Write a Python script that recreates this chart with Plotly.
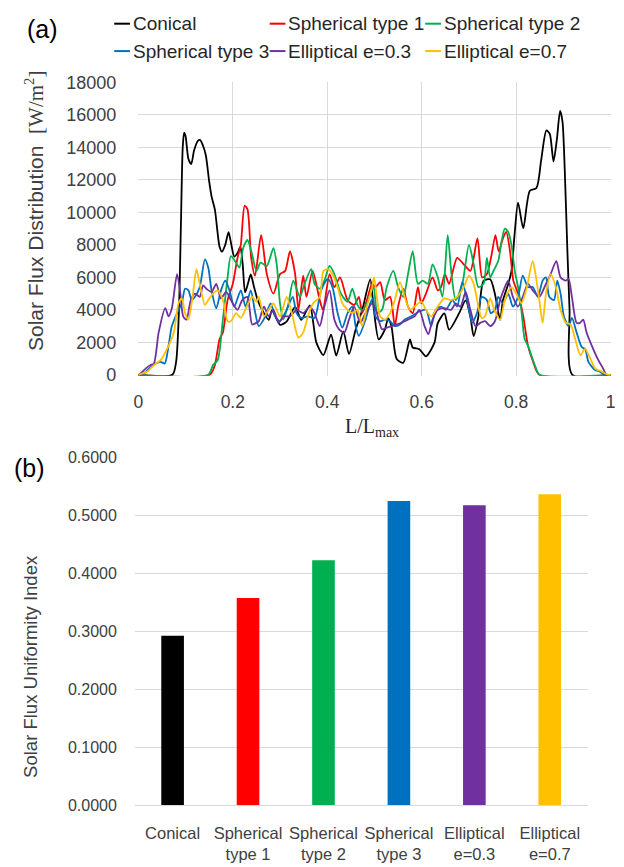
import plotly.graph_objects as go

# ---- Solar flux distribution along L/Lmax (W/m^2) ----
conical_x = [0, 0.072, 0.080, 0.086, 0.090, 0.094, 0.097, 0.100, 0.106, 0.112, 0.118, 0.126, 0.131, 0.137,
             0.143, 0.150, 0.155, 0.162, 0.172, 0.177, 0.184, 0.191, 0.197, 0.203, 0.210, 0.216, 0.221, 0.226,
             0.232, 0.238, 0.245, 0.253, 0.262, 0.276, 0.283, 0.300, 0.314, 0.332, 0.345, 0.363, 0.377, 0.392,
             0.408, 0.419, 0.434, 0.446, 0.460, 0.474, 0.491, 0.498, 0.509, 0.522, 0.529, 0.536, 0.547, 0.561,
             0.575, 0.581, 0.595, 0.609, 0.627, 0.634, 0.648, 0.658, 0.679, 0.693, 0.703, 0.710, 0.720, 0.731,
             0.745, 0.755, 0.766, 0.772, 0.783, 0.790, 0.797, 0.804, 0.815, 0.829, 0.843, 0.853, 0.864, 0.871,
             0.879, 0.886, 0.893, 0.898, 0.903, 0.908, 0.913, 0.919, 1.0]
conical_y = [0, 0, 800, 4000, 9000, 14000, 14900, 14700, 13300, 12970, 13800, 14400, 14450, 14100,
             13500, 11900, 10980, 10180, 7880, 7580, 8000, 8780, 8000, 7280, 7500, 7880, 6800, 5080,
             5600, 6180, 5400, 4580, 4000, 3380, 3980, 3080, 3280, 4180, 3380, 4280, 1980, 1220,
             2480, 1180, 2680, 1280, 2780, 3980, 5880, 4180, 2180, 2780, 3480, 2980, 980, 740,
             2180, 1680, 1580, 1140, 1980, 3180, 3780, 2780, 3780, 4580, 3580, 2380, 3580, 5780,
             5880, 4980, 3380, 4580, 5580, 6380, 8780, 10600, 9020, 11330, 11500, 13230, 15040, 14840,
             13130, 14440, 16240, 15600, 12500, 8000, 4000, 0, 0]

sph1_x = [0, 0.151, 0.162, 0.172, 0.179, 0.189, 0.200, 0.210, 0.217, 0.225, 0.231, 0.239, 0.247, 0.260,
          0.272, 0.286, 0.300, 0.311, 0.321, 0.332, 0.339, 0.349, 0.356, 0.369, 0.384, 0.391, 0.405, 0.415,
          0.427, 0.443, 0.457, 0.467, 0.474, 0.484, 0.495, 0.502, 0.512, 0.522, 0.533, 0.543, 0.550, 0.561,
          0.571, 0.581, 0.592, 0.599, 0.609, 0.623, 0.634, 0.641, 0.649, 0.658, 0.675, 0.689, 0.703, 0.718,
          0.728, 0.738, 0.748, 0.756, 0.763, 0.772, 0.779, 0.787, 0.794, 0.804, 0.815, 0.825, 0.836, 0.849, 1.0]
sph1_y = [0, 0, 600, 2200, 2600, 4600, 5600, 7200, 8000, 10400, 10200, 7200, 6100, 8600,
          6200, 5000, 6200, 6400, 7600, 6200, 4000, 6100, 4800, 6400, 4600, 4000, 6200, 5400,
          6000, 4600, 4300, 4800, 3800, 4600, 5600, 5400, 5700, 4600, 4800, 3000, 4200, 5300,
          4200, 3800, 5400, 4400, 5000, 6000, 5200, 5400, 6200, 5600, 7200, 6800, 6400, 8400,
          6000, 6200, 7400, 8600, 7600, 8400, 8800, 7600, 5800, 5000, 3600, 1800, 800, 0, 0]

sph2_x = [0, 0.148, 0.158, 0.168, 0.179, 0.189, 0.196, 0.207, 0.214, 0.222, 0.231, 0.241, 0.250, 0.259,
          0.272, 0.286, 0.293, 0.300, 0.307, 0.318, 0.328, 0.342, 0.352, 0.366, 0.373, 0.384, 0.394, 0.405,
          0.415, 0.429, 0.443, 0.453, 0.464, 0.474, 0.484, 0.498, 0.506, 0.516, 0.526, 0.540, 0.550, 0.561,
          0.571, 0.581, 0.592, 0.602, 0.613, 0.623, 0.634, 0.644, 0.655, 0.663, 0.672, 0.686, 0.700, 0.710,
          0.720, 0.731, 0.738, 0.745, 0.752, 0.762, 0.769, 0.776, 0.783, 0.790, 0.797, 0.804, 0.811, 0.818,
          0.825, 0.832, 0.842, 0.849, 1.0]
sph2_y = [0, 0, 600, 900, 3400, 6000, 7300, 6900, 6600, 7800, 8300, 7400, 6400, 6900,
          6700, 7800, 6800, 4400, 3400, 4400, 5800, 4800, 5600, 6500, 5600, 5300, 5800, 6700,
          6200, 5000, 4500, 5300, 4300, 4000, 4400, 5400, 3800, 4000, 5400, 6400, 5400, 4800,
          6200, 7600, 5600, 5800, 5600, 6800, 6000, 4800, 8600, 6200, 4600, 5600, 8000, 6800,
          5400, 5600, 7200, 6000, 6400, 7000, 8200, 9000, 8800, 8000, 6400, 5400, 4000, 2200,
          1800, 1200, 400, 0, 0]

sph3_x = [0, 0.012, 0.023, 0.037, 0.047, 0.056, 0.064, 0.071, 0.082, 0.092, 0.099, 0.106, 0.113, 0.120,
          0.130, 0.141, 0.148, 0.155, 0.165, 0.175, 0.184, 0.193, 0.203, 0.217, 0.227, 0.238, 0.247, 0.255,
          0.269, 0.280, 0.290, 0.300, 0.314, 0.327, 0.335, 0.345, 0.359, 0.373, 0.387, 0.401, 0.411, 0.422,
          0.432, 0.443, 0.453, 0.460, 0.467, 0.481, 0.491, 0.497, 0.502, 0.512, 0.522, 0.533, 0.543, 0.554,
          0.564, 0.578, 0.595, 0.609, 0.620, 0.630, 0.641, 0.651, 0.665, 0.675, 0.686, 0.696, 0.707, 0.717,
          0.727, 0.738, 0.746, 0.755, 0.762, 0.772, 0.783, 0.793, 0.804, 0.814, 0.825, 0.835, 0.846, 0.856,
          0.863, 0.870, 0.880, 0.887, 0.894, 0.901, 0.911, 0.918, 0.928, 0.939, 0.946, 0.953, 0.967, 0.977,
          0.988, 1.0]
sph3_y = [0, 80, 400, 700, 800, 700, 1800, 3000, 3800, 4400, 5300, 5200, 4600, 4800,
          5400, 7100, 6600, 5200, 4100, 5200, 5800, 5200, 4200, 5200, 4200, 5200, 3900, 3000,
          3600, 4400, 3600, 3300, 4000, 4800, 3800, 3500, 3600, 3500, 5200, 5900, 5400, 3800,
          2900, 3800, 4200, 3000, 2400, 3400, 4400, 4700, 3600, 3300, 3400, 3300, 3000, 3100,
          3400, 3600, 3900, 4000, 3000, 4000, 4200, 4000, 4600, 4200, 5700, 4600, 3200, 3800,
          4800, 4600, 3800, 4000, 4800, 4400, 5000, 4200, 4800, 6100, 5400, 5400, 4800, 5800,
          6000, 4800, 4600, 5800, 5000, 3600, 3000, 3500, 2600, 1700, 1600, 800, 300, 200,
          0, 0]

ell3_x = [0, 0.005, 0.016, 0.026, 0.033, 0.043, 0.057, 0.064, 0.071, 0.082, 0.089, 0.095, 0.102, 0.111,
          0.120, 0.130, 0.137, 0.144, 0.155, 0.165, 0.175, 0.186, 0.196, 0.210, 0.220, 0.231, 0.241, 0.250,
          0.255, 0.266, 0.276, 0.286, 0.297, 0.307, 0.321, 0.335, 0.349, 0.363, 0.373, 0.384, 0.394, 0.405,
          0.415, 0.425, 0.436, 0.446, 0.457, 0.470, 0.481, 0.495, 0.503, 0.516, 0.526, 0.536, 0.547, 0.557,
          0.571, 0.585, 0.595, 0.606, 0.614, 0.623, 0.634, 0.648, 0.662, 0.672, 0.682, 0.693, 0.703, 0.714,
          0.724, 0.734, 0.745, 0.755, 0.766, 0.776, 0.783, 0.793, 0.804, 0.814, 0.825, 0.835, 0.849, 0.863,
          0.873, 0.885, 0.894, 0.905, 0.911, 0.918, 0.928, 0.935, 0.942, 0.949, 0.960, 0.974, 0.984, 0.991, 1.0]
ell3_y = [0, 80, 400, 600, 700, 2600, 4100, 3600, 4100, 6200, 5000, 3600, 3400, 4600,
          5000, 4800, 5500, 5300, 5100, 5600, 4700, 5100, 4600, 4000, 4600, 4800, 3100, 3200,
          3300, 4200, 3600, 4000, 3200, 3600, 3600, 4000, 3800, 4200, 3800, 3000, 4200, 5200,
          3400, 2800, 2600, 3400, 4200, 3200, 3800, 4400, 4000, 2800, 2900, 3000, 3100, 3200,
          3400, 3600, 4000, 3000, 2500, 3400, 4000, 4100, 4000, 4400, 4200, 5100, 4000, 3000,
          3200, 3300, 3000, 3300, 4600, 5400, 5800, 4800, 4200, 4800, 5600, 5200, 4800, 5600,
          6200, 7000, 6000, 5800, 5900, 4800, 3200, 3200, 3400, 2600, 1800, 900, 400, 0, 0]

ell7_x = [0, 0.019, 0.033, 0.047, 0.061, 0.075, 0.085, 0.092, 0.099, 0.106, 0.114, 0.123, 0.130, 0.141,
          0.148, 0.158, 0.168, 0.179, 0.189, 0.196, 0.207, 0.217, 0.231, 0.241, 0.250, 0.255, 0.266, 0.276,
          0.286, 0.300, 0.314, 0.325, 0.339, 0.349, 0.359, 0.370, 0.384, 0.392, 0.401, 0.411, 0.422, 0.432,
          0.443, 0.453, 0.464, 0.474, 0.484, 0.495, 0.499, 0.505, 0.512, 0.522, 0.533, 0.543, 0.554, 0.564,
          0.575, 0.585, 0.599, 0.609, 0.620, 0.634, 0.648, 0.662, 0.675, 0.689, 0.700, 0.710, 0.720, 0.727,
          0.734, 0.745, 0.755, 0.766, 0.776, 0.790, 0.800, 0.811, 0.821, 0.835, 0.842, 0.849, 0.856, 0.863,
          0.873, 0.884, 0.894, 0.905, 0.915, 0.925, 0.936, 0.946, 0.957, 0.967, 0.981, 0.995, 1.0]
ell7_y = [0, 200, 600, 900, 1600, 2600, 4400, 4700, 3800, 3400, 4600, 6500, 5600, 4300,
          4600, 5000, 5200, 4600, 3300, 3300, 3800, 3500, 4300, 4800, 4500, 4800, 3600, 4000,
          4400, 3600, 4800, 3800, 2300, 2600, 3600, 4400, 4800, 6400, 6500, 6200, 5400, 4400,
          4000, 3800, 4000, 3000, 4200, 5400, 6000, 4800, 3600, 3400, 3800, 4600, 5700, 4800,
          4000, 4200, 4500, 4000, 3600, 4200, 4700, 4600, 4800, 5400, 6100, 5600, 4200, 3500,
          3600, 4700, 3900, 3400, 4600, 5400, 5000, 4400, 5200, 7000, 6000, 4600, 3200, 5000,
          6200, 5400, 4000, 3200, 3100, 2200, 1200, 1600, 1000, 400, 200, 0, 0]

# ---- Uniformity index per receiver geometry ----
geometries = ["Conical", "Spherical<br>type 1", "Spherical<br>type 2", "Spherical<br>type 3",
              "Elliptical<br>e=0.3", "Elliptical<br>e=0.7"]
uniformity = [0.292, 0.357, 0.422, 0.524, 0.517, 0.536]

series_names = ["Conical", "Spherical type 1", "Spherical type 2",
                "Spherical type 3", "Elliptical e=0.3", "Elliptical e=0.7"]
colors = ["#000000", "#FF0000", "#00B050", "#0070C0", "#7030A0", "#FFC000"]
flux_x = [conical_x, sph1_x, sph2_x, sph3_x, ell3_x, ell7_x]
flux_y = [conical_y, sph1_y, sph2_y, sph3_y, ell3_y, ell7_y]

W, H = 624, 867
SANS = "Liberation Sans, Arial, sans-serif"
SERIF = "Liberation Serif, Times New Roman, serif"
GRID = "#D9D9D9"

def px(v):
    return v / W

def py(v):
    return 1 - v / H

fig = go.Figure()

for name, c, xs, ys in zip(series_names, colors, flux_x, flux_y):
    fig.add_trace(go.Scatter(
        x=xs, y=ys, name=name, mode="lines",
        line=dict(color=c, width=1.8, shape="spline", smoothing=0.7),
        xaxis="x", yaxis="y", showlegend=False,
    ))

fig.add_trace(go.Bar(
    x=geometries, y=uniformity, marker=dict(color=colors, line=dict(width=0)),
    xaxis="x2", yaxis="y2", showlegend=False,
))

fig.update_layout(
    width=W, height=H,
    margin=dict(l=0, r=0, t=0, b=0),
    paper_bgcolor="white", plot_bgcolor="white",
    bargap=0.70,
    xaxis=dict(
        domain=[px(135.5), px(615.5)], range=[0, 1], anchor="y",
        tickvals=[0, 0.2, 0.4, 0.6, 0.8, 1], ticktext=["0", "0.2", "0.4", "0.6", "0.8", "1"],
        showgrid=True, gridcolor=GRID, gridwidth=1, zeroline=False,
        showline=False, ticks="", ticklabelstandoff=14,
        tickfont=dict(family=SANS, size=17.5, color="#404040"),
    ),
    yaxis=dict(
        domain=[py(374), py(74)], range=[-60, 18000], anchor="x",
        tickvals=list(range(0, 18001, 2000)), tickformat="d",
        showgrid=True, gridcolor=GRID, gridwidth=1, zeroline=False,
        showline=False, ticks="", ticklabelstandoff=21,
        tickfont=dict(family=SANS, size=18, color="#404040"),
    ),
    xaxis2=dict(
        domain=[px(132), px(592)], anchor="y2",
        showgrid=False, showline=True, linecolor=GRID, linewidth=1,
        ticks="", ticklabelstandoff=13,
        tickfont=dict(family=SANS, size=16.5, color="#404040"),
    ),
    yaxis2=dict(
        domain=[py(813), py(457)], range=[0, 0.6], anchor="x2",
        dtick=0.1, tickformat=".4f",
        showgrid=True, gridcolor=GRID, gridwidth=1, zeroline=False,
        showline=False, ticks="", ticklabelstandoff=17,
        tickfont=dict(family=SANS, size=16, color="#404040"),
    ),
)

# Legend: three entries per row, short line swatch followed by the label
legend_cols = [111, 269, 427]
legend_rows = [14, 42]
shapes = []
annotations = []
for i, (name, c) in enumerate(zip(series_names, colors)):
    x0 = legend_cols[i % 3]
    yr = legend_rows[i // 3]
    shapes.append(dict(type="line", xref="paper", yref="paper",
                       x0=px(x0), x1=px(x0 + 16), y0=py(yr), y1=py(yr),
                       line=dict(color=c, width=2)))
    annotations.append(dict(text=name, x=px(x0 + 17), y=py(yr), xanchor="left", yanchor="middle",
                            font=dict(family=SANS, size=19, color="#262626")))

annotations += [
    dict(text="(a)", x=px(38), y=py(19), font=dict(family=SANS, size=25, color="#000000")),
    dict(text="(b)", x=px(25), y=py(468), font=dict(family=SANS, size=25, color="#000000")),
    dict(text="Solar Flux Distribution  <span style='font-family:Liberation Serif, Times New Roman, serif'>[W/m<sup>2</sup>]</span>",
         x=px(30), y=py(206), textangle=-90, font=dict(family=SANS, size=21, color="#404040")),
    dict(text="L/L<sub>max</sub>", x=px(373), y=py(427), font=dict(family=SERIF, size=20, color="#262626")),
    dict(text="Solar Flux Uniformity Index", x=px(26), y=py(671), textangle=-90,
         font=dict(family=SANS, size=18.5, color="#404040")),
]
for a in annotations:
    a.update(xref="paper", yref="paper", showarrow=False)
    a.setdefault("xanchor", "center")
    a.setdefault("yanchor", "middle")
fig.update_layout(annotations=annotations, shapes=shapes)

fig.write_html("out.html")
